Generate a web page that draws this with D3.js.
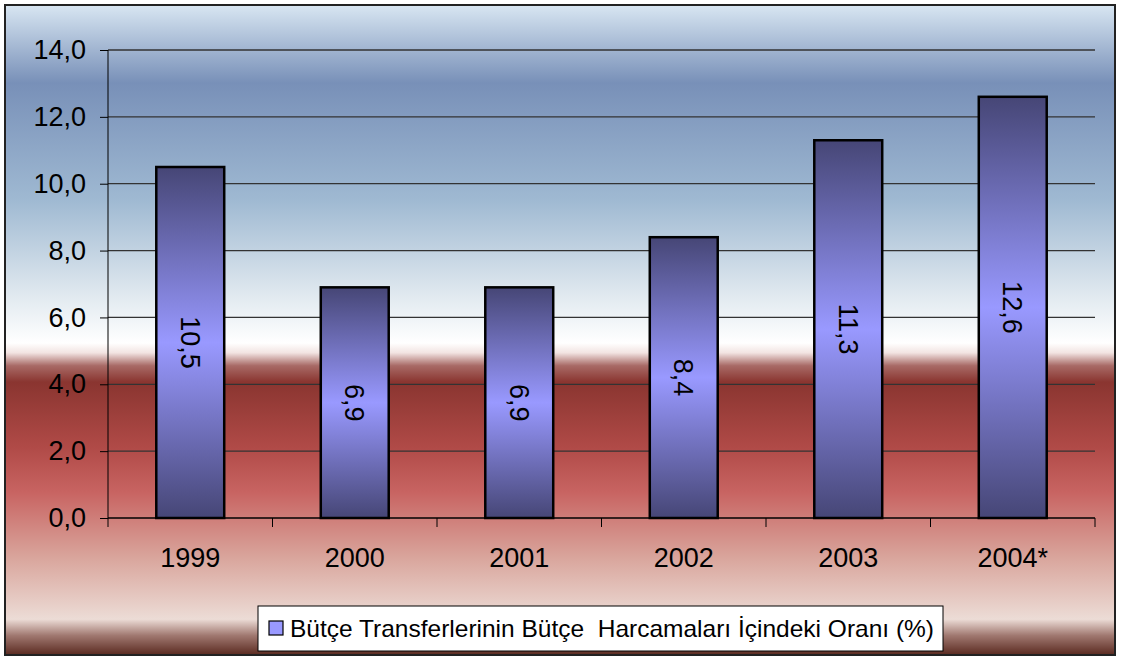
<!DOCTYPE html>
<html lang="tr">
  <head>
  <meta charset="utf-8">
  <title>Bütçe Transferleri</title>
    <style>
      body { margin: 0; background: #fff; }
      text { font-family: Arial, "Liberation Sans", sans-serif; fill: #000; }
    </style>
  </head>
  <body>
<div id="chart"></div>
    <script src="https://d3js.org/d3.v7.min.js"></script>
    <script>
    // data
    var years = ["1999", "2000", "2001", "2002", "2003", "2004*"];
    var ratios = [10.5, 6.9, 6.9, 8.4, 11.3, 12.6];
    var yTicks = [0, 2, 4, 6, 8, 10, 12, 14];
    var seriesName = "Bütçe Transferlerinin Bütçe  Harcamaları İçindeki Oranı (%)";

    var width = 1121, height = 657;
    var plotLeft = 108, plotRight = 1095, plotTop = 50, plotBottom = 518;
    var fontSize = 27;

    var svg = d3.select("#chart")
        .append("svg")
        .attr("width", width)
        .attr("height", height);

    var defs = svg.append("defs");

    // chart area background
    var bg = defs.append("linearGradient")
        .attr("id", "bg")
        .attr("x1", 0).attr("y1", 0).attr("x2", 0).attr("y2", 1);
    [[0, "#d8e6f2"], [0.12, "#7890b8"], [0.3, "#9fb9d2"], [0.45, "#e2eaf0"],
     [0.52, "#ffffff"], [0.535, "#f2e4e2"], [0.555, "#a86a66"], [0.58, "#8a3530"],
     [0.68, "#b04a47"], [0.75, "#c86462"], [0.85, "#d9a59c"], [0.945, "#ecdcd6"],
     [0.97, "#a07870"], [1, "#5a2a20"]]
      .forEach(function(s) {
        bg.append("stop").attr("offset", s[0]).attr("stop-color", s[1]);
      });

    var barGrad = defs.append("linearGradient")
        .attr("id", "bar")
        .attr("x1", 0).attr("y1", 0).attr("x2", 0).attr("y2", 1);
    [[0, "#464676"], [0.5, "#9999ff"], [1, "#464676"]].forEach(function(s) {
      barGrad.append("stop").attr("offset", s[0]).attr("stop-color", s[1]);
    });

    svg.append("rect")
        .attr("x", 5).attr("y", 5)
        .attr("width", 1110).attr("height", 650)
        .attr("fill", "url(#bg)")
        .attr("stroke", "#222")
        .attr("stroke-width", 2);

    var x = d3.scaleBand()
        .domain(years)
        .range([plotLeft, plotRight])
        .paddingInner(0.587)
        .paddingOuter(0.2935);

    var y = d3.scaleLinear()
        .domain([0, 14])
        .range([plotBottom, plotTop]);

    var fmt = function(d) { return d3.format(".1f")(d).replace(".", ","); };

    // gridlines
    svg.append("g")
      .selectAll("line")
      .data(yTicks.slice(1))
      .enter().append("line")
        .attr("x1", plotLeft).attr("x2", plotRight)
        .attr("y1", function(d) { return y(d); })
        .attr("y2", function(d) { return y(d); })
        .attr("stroke", "#333")
        .attr("stroke-width", 1.3);

    // y axis
    var yAxis = svg.append("g")
        .attr("transform", "translate(" + plotLeft + ",0)")
        .call(d3.axisLeft(y)
          .tickValues(yTicks)
          .tickSize(8)
          .tickPadding(14)
          .tickFormat(fmt));
    yAxis.select(".domain").attr("stroke", "#000").attr("d", "M0," + plotTop + "V" + plotBottom);
    yAxis.selectAll(".tick line").attr("stroke", "#000");
    yAxis.selectAll("text")
        .attr("font-size", fontSize)
        .attr("font-family", "Arial, 'Liberation Sans', sans-serif");

    // bars
    var bars = svg.append("g")
      .selectAll("g")
      .data(ratios)
      .enter().append("g");

    bars.append("rect")
        .attr("x", function(d, i) { return x(years[i]); })
        .attr("y", function(d) { return y(d); })
        .attr("width", x.bandwidth())
        .attr("height", function(d) { return y(0) - y(d); })
        .attr("fill", "url(#bar)")
        .attr("stroke", "#000")
        .attr("stroke-width", 2.5);

    bars.append("text")
        .attr("transform", function(d, i) {
          var cx = x(years[i]) + x.bandwidth() / 2;
          var cy = (y(d) + y(0)) / 2;
          return "translate(" + cx + "," + cy + ") rotate(90)";
        })
        .attr("text-anchor", "middle")
        .attr("dy", "0.35em")
        .attr("font-size", fontSize)
        .text(fmt);

    // x axis
    var step = x.step();
    var xAxis = svg.append("g")
        .attr("transform", "translate(0," + plotBottom + ")");
    xAxis.append("line")
        .attr("x1", plotLeft).attr("x2", plotRight)
        .attr("stroke", "#000").attr("stroke-width", 1.3);
    xAxis.selectAll(".sep")
        .data(d3.range(years.length + 1))
        .enter().append("line")
        .attr("class", "sep")
        .attr("x1", function(i) { return plotLeft + i * step; })
        .attr("x2", function(i) { return plotLeft + i * step; })
        .attr("y1", 0).attr("y2", 9)
        .attr("stroke", "#000");
    xAxis.selectAll(".lbl")
        .data(years)
        .enter().append("text")
        .attr("class", "lbl")
        .attr("x", function(d) { return x(d) + x.bandwidth() / 2; })
        .attr("y", 49)
        .attr("text-anchor", "middle")
        .attr("font-size", fontSize)
        .text(function(d) { return d; });

    // legend
    var legend = svg.append("g");
    legend.append("rect")
        .attr("x", 258).attr("y", 606)
        .attr("width", 685).attr("height", 45)
        .attr("fill", "#fff")
        .attr("stroke", "#000")
        .attr("stroke-width", 1);
    legend.append("rect")
        .attr("x", 269).attr("y", 621)
        .attr("width", 14).attr("height", 14)
        .attr("fill", "#9999ff")
        .attr("stroke", "#000")
        .attr("stroke-width", 1.2);
    legend.append("text")
        .attr("x", 290).attr("y", 637)
        .attr("font-size", 24)
        .attr("textLength", 644)
        .attr("lengthAdjust", "spacingAndGlyphs")
        .style("white-space", "pre")
        .text(seriesName);
    </script>
  </body>
</html>
